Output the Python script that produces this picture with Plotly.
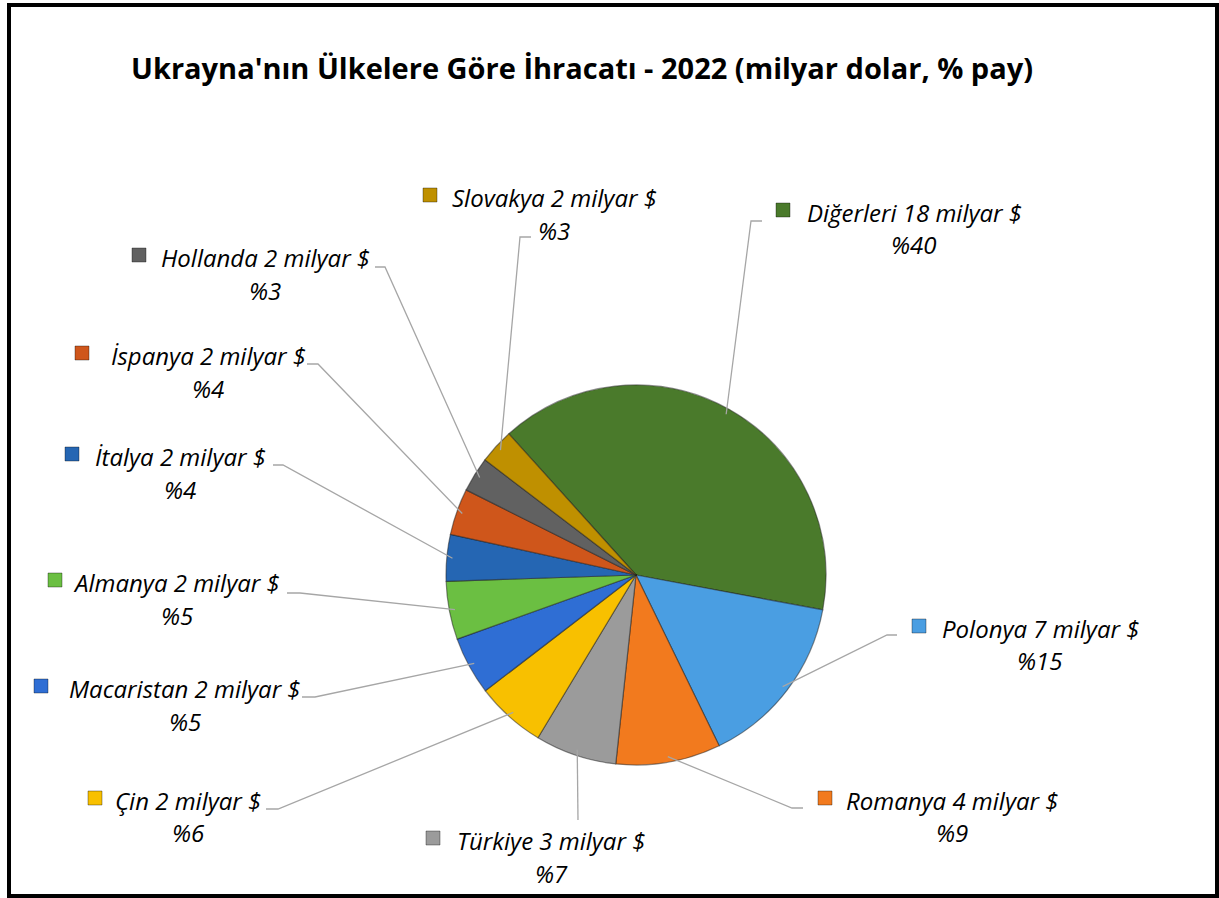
import math
import plotly.graph_objects as go

# ---------------- data ----------------
countries = ["Diğerleri", "Polonya", "Romanya", "Türkiye", "Çin", "Macaristan",
             "Almanya", "İtalya", "İspanya", "Hollanda", "Slovakya"]
export_bn = [18, 7, 4, 3, 2, 2, 2, 2, 2, 2, 2]          # milyar $
share_pct = [40, 15, 9, 7, 6, 5, 5, 4, 4, 3, 3]          # % pay
title_text = "Ukrayna'nın Ülkelere Göre İhracatı - 2022 (milyar dolar, % pay)"

# ---------------- styles / layout ----------------
colors = ["#4A7A2B", "#4A9EE2", "#F27A1E", "#9B9B9B", "#F8C000", "#2F6ED4",
          "#6BBF42", "#2566B3", "#CF561B", "#616161", "#BF9000"]
W, H = 1219, 898
CX, CY, R = 636, 575, 190           # pie centre / radius in pixels
START_ANGLE = -42                    # degrees clockwise from 12 o'clock
FONT = "Open Sans"
LABEL_SIZE = 24

# label placement: text centre x, line1 y, line2 y, legend-key centre x
label_pos = {
    "Diğerleri":  (914, 212, 244, 783),
    "Polonya":    (1040, 628, 660, 919),
    "Romanya":    (952, 800, 832, 825),
    "Türkiye":    (551, 840, 873, 433),
    "Çin":        (188, 800, 832, 95),
    "Macaristan": (185, 688, 721, 41),
    "Almanya":    (177, 582, 615, 55),
    "İtalya":     (180, 456, 489, 72),
    "İspanya":    (208, 355, 388, 82),
    "Hollanda":   (265, 257, 290, 139),
    "Slovakya":   (554, 197, 231, 430),
}
# leader line bends: list of (x, y) pixel points after the slice point
leader_pts = {
    "Diğerleri":  [(751, 221), (762, 221)],
    "Polonya":    [(887, 635), (897, 635)],
    "Romanya":    [(792, 808), (803, 808)],
    "Türkiye":    [(578, 820)],
    "Çin":        [(278, 809), (266, 809)],
    "Macaristan": [(315, 697), (302, 697)],
    "Almanya":    [(300, 593), (287, 593)],
    "İtalya":     [(283, 465), (273, 465)],
    "İspanya":    [(318, 364), (307, 364)],
    "Hollanda":   [(385, 267), (375, 267)],
    "Slovakya":   [(520, 237), (531, 237)],
}


def px(x):
    return x / W


def py(y):
    return 1 - y / H


fig = go.Figure()
fig.add_trace(go.Pie(
    labels=countries,
    values=share_pct,
    sort=False,
    direction="clockwise",
    rotation=START_ANGLE,
    textinfo="none",
    hoverinfo="label+value",
    marker=dict(colors=colors, line=dict(color="rgba(30,30,30,0.5)", width=1.2)),
    domain=dict(x=[px(CX - R), px(CX + R)], y=[py(CY + R), py(CY - R)]),
    showlegend=False,
))

shapes = []
annotations = []

# chart frame
shapes.append(dict(type="rect", xref="paper", yref="paper",
                   x0=px(9), x1=px(1217), y0=py(896), y1=py(5),
                   line=dict(color="black", width=4), fillcolor="rgba(0,0,0,0)"))

# title
annotations.append(dict(text="<b>" + title_text + "</b>", xref="paper", yref="paper",
                        x=px(582), y=py(68), xanchor="center", yanchor="middle",
                        showarrow=False, font=dict(family=FONT, size=29, color="black")))

total = sum(share_pct)
cum = 0
for name, bn, pct, col in zip(countries, export_bn, share_pct, colors):
    mid = START_ANGLE + (cum + pct / 2) / total * 360
    cum += pct
    a = math.radians(mid)
    sx = CX + 0.97 * R * math.sin(a)
    sy = CY - 0.97 * R * math.cos(a)
    pts = [(sx, sy)] + leader_pts[name]
    path = "M " + " L ".join(f"{px(x):.5f},{py(y):.5f}" for x, y in pts)
    shapes.append(dict(type="path", xref="paper", yref="paper", path=path,
                       line=dict(color="#A6A6A6", width=1.3)))

    tcx, y1, y2, mx = label_pos[name]
    annotations.append(dict(text=f"<i>{name} {bn} milyar $</i>", xref="paper", yref="paper",
                            x=px(tcx), y=py(y1), xanchor="center", yanchor="middle",
                            showarrow=False, font=dict(family=FONT, size=LABEL_SIZE, color="black")))
    annotations.append(dict(text=f"<i>%{pct}</i>", xref="paper", yref="paper",
                            x=px(tcx), y=py(y2), xanchor="center", yanchor="middle",
                            showarrow=False, font=dict(family=FONT, size=LABEL_SIZE, color="black")))
    s = 7
    shapes.append(dict(type="rect", xref="paper", yref="paper",
                       x0=px(mx - s), x1=px(mx + s), y0=py(y1 - 2 + s), y1=py(y1 - 2 - s),
                       fillcolor=col, line=dict(color="rgba(0,0,0,0.35)", width=1)))

fig.update_layout(
    width=W, height=H,
    margin=dict(l=0, r=0, t=0, b=0),
    paper_bgcolor="white", plot_bgcolor="white",
    shapes=shapes, annotations=annotations,
    font=dict(family=FONT),
)

fig.write_html("out.html", config={"displayModeBar": False},
               post_script="document.body.style.margin='0';document.body.style.overflow='hidden';")
